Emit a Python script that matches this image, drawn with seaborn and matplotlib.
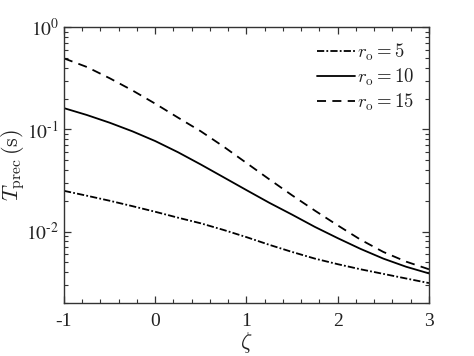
import numpy as np
import pandas as pd
import matplotlib
matplotlib.use("Agg")
import matplotlib.pyplot as plt
import seaborn as sns
from matplotlib.ticker import FixedLocator, LogLocator, NullFormatter, FuncFormatter, MultipleLocator

zeta = [-1, -0.75, -0.5, -0.25, 0, 0.25, 0.5, 0.75, 1, 1.25, 1.5, 1.75, 2, 2.25, 2.5, 2.75, 3]
T_r5 = [0.0250, 0.0224, 0.0200, 0.0177, 0.0156, 0.01365, 0.01202, 0.01035, 0.00881,
        0.00741, 0.00631, 0.00543, 0.00479, 0.00427, 0.00385, 0.00347, 0.00313]
T_r10 = [0.161, 0.138, 0.116, 0.0955, 0.0767, 0.0596, 0.0452, 0.0339, 0.0254,
         0.0191, 0.01462, 0.01109, 0.00861, 0.00676, 0.00543, 0.00452, 0.00389]
T_r15 = [0.494, 0.407, 0.316, 0.240, 0.178, 0.130, 0.0955, 0.0676, 0.0468,
         0.0324, 0.0226, 0.0160, 0.01148, 0.00832, 0.00631, 0.00507, 0.00427]
labels = [r"$r_{\rm o} = 5$", r"$r_{\rm o} = 10$", r"$r_{\rm o} = 15$"]
x_ticks = [-1, 0, 1, 2, 3]
y_ticks = [1e-2, 1e-1, 1e0]

df = pd.DataFrame({
    "zeta": zeta * 3,
    "T": T_r5 + T_r10 + T_r15,
    "series": [labels[0]] * len(zeta) + [labels[1]] * len(zeta) + [labels[2]] * len(zeta),
})

sns.set_style("ticks")
plt.rcParams["font.family"] = ["Liberation Serif", "DejaVu Serif"]
plt.rcParams["mathtext.fontset"] = "cm"

fig = plt.figure(figsize=(4.74, 3.56), dpi=100)
ax = fig.add_axes([0.135, 0.149, 0.770, 0.775])

dashes = {labels[0]: (4, 1.2, 1, 1.2), labels[1]: "", labels[2]: (5, 3.5)}
sns.lineplot(data=df, x="zeta", y="T", hue="series", style="series",
             palette=["black"] * 3, dashes=dashes, linewidth=1.3, ax=ax,
             legend=True)

ax.set_yscale("log")
ax.set_xlim(-1, 3)
ax.set_ylim(0.002, 1)
ax.set_xticks(x_ticks)
ax.xaxis.set_major_formatter(FuncFormatter(lambda v, p: "%d" % v if v >= 0 else "-%d" % abs(v)))
ax.xaxis.set_minor_locator(MultipleLocator(0.2))
ax.yaxis.set_major_locator(FixedLocator(y_ticks))
ax.yaxis.set_minor_locator(LogLocator(base=10, subs=np.arange(2, 10) * 1.0, numticks=20))
ax.yaxis.set_minor_formatter(NullFormatter())
ax.yaxis.set_major_formatter(FuncFormatter(
    lambda v, p: r"$\mathrm{10^{%s}}$" % (("{\\text{-}}%d" % abs(int(round(np.log10(v))))) if v < 1 else "0")))

ax.tick_params(which="both", direction="in", top=True, right=True, colors="#333333",
               labelcolor="#222222", labelsize=14)
ax.tick_params(axis="x", which="major", pad=7)
ax.tick_params(which="major", length=5, width=0.9)
ax.tick_params(which="minor", length=3, width=0.8)
for s in ax.spines.values():
    s.set_color("#333333")
    s.set_linewidth(1.0)

fig.canvas.draw()
for lab in ax.get_yticklabels():
    lab.set_math_fontfamily("stix")

ax.set_xlabel(r"$\zeta$", fontsize=16, color="#222222", labelpad=0)
ax.set_ylabel(r"$T_{\rm prec}\,({\rm s})$", fontsize=16, color="#222222")
ax.yaxis.set_label_coords(-0.102, 0.5)

leg = ax.legend(loc="upper right", frameon=False, fontsize=13.5, handlelength=2.0,
                handletextpad=0.1, labelspacing=0.2, borderaxespad=0.4)
for t in leg.get_texts():
    t.set_color("#222222")

fig.savefig("out.png", dpi=100)
